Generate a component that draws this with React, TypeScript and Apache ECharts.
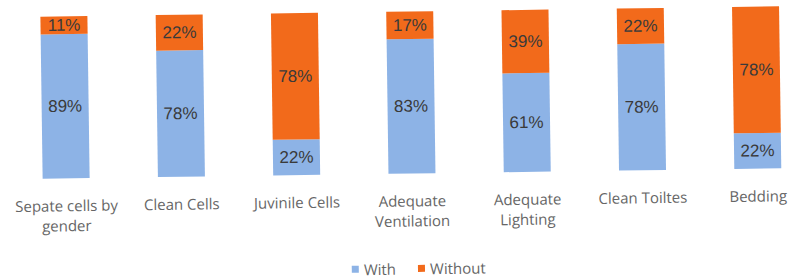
import React, { useEffect, useRef } from "react";
import * as echarts from "echarts";

const categories = [
  "Sepate cells by\ngender",
  "Clean Cells",
  "Juvinile Cells",
  "Adequate\nVentilation",
  "Adequate\nLighting",
  "Clean Toiltes",
  "Bedding",
];
const withValues = [89, 78, 22, 83, 61, 78, 22];
const withoutValues = [11, 22, 78, 17, 39, 22, 78];
const seriesNames = ["With", "Without"];

export default function App() {
  const ref = useRef<HTMLDivElement>(null);
  useEffect(() => {
    if (!ref.current) return;
    const chart = echarts.init(ref.current, undefined, { renderer: "svg" });
    const labelStyle = {
      show: true,
      position: "inside" as const,
      formatter: "{c}%",
      fontFamily: "Liberation Sans",
      fontSize: 17,
      color: "#3a3a3a",
    };
    chart.setOption({
      animation: false,
      backgroundColor: "#ffffff",
      grid: { left: 8, top: 11.5, width: 807, height: 162 },
      legend: {
        data: seriesNames,
        left: 345,
        top: 256,
        itemWidth: 7,
        itemHeight: 7,
        itemGap: 22,
        icon: "rect",
        textStyle: { fontFamily: "Open Sans", fontSize: 15, color: "#666666" },
      },
      xAxis: {
        type: "category",
        data: categories,
        axisLine: { show: false },
        axisTick: { show: false },
        axisLabel: {
          margin: 17,
          fontFamily: "Open Sans",
          fontSize: 15,
          lineHeight: 20,
          color: "#666666",
          interval: 0,
        },
      },
      yAxis: {
        type: "value",
        min: 0,
        max: 100,
        show: false,
        splitLine: { show: false },
      },
      series: [
        {
          name: seriesNames[0],
          type: "bar",
          stack: "total",
          data: withValues,
          barWidth: 47,
          itemStyle: { color: "#8db3e6" },
          label: labelStyle,
        },
        {
          name: seriesNames[1],
          type: "bar",
          stack: "total",
          data: withoutValues,
          barWidth: 47,
          itemStyle: { color: "#f26a1b" },
          label: labelStyle,
        },
      ],
    });
    return () => chart.dispose();
  }, []);
  return (
    <div
      ref={ref}
      style={{
        position: "absolute",
        left: 0,
        top: 0,
        width: 830,
        height: 278,
        transform: "rotate(-0.8deg)",
        transformOrigin: "411px 140px",
      }}
    />
  );
}
